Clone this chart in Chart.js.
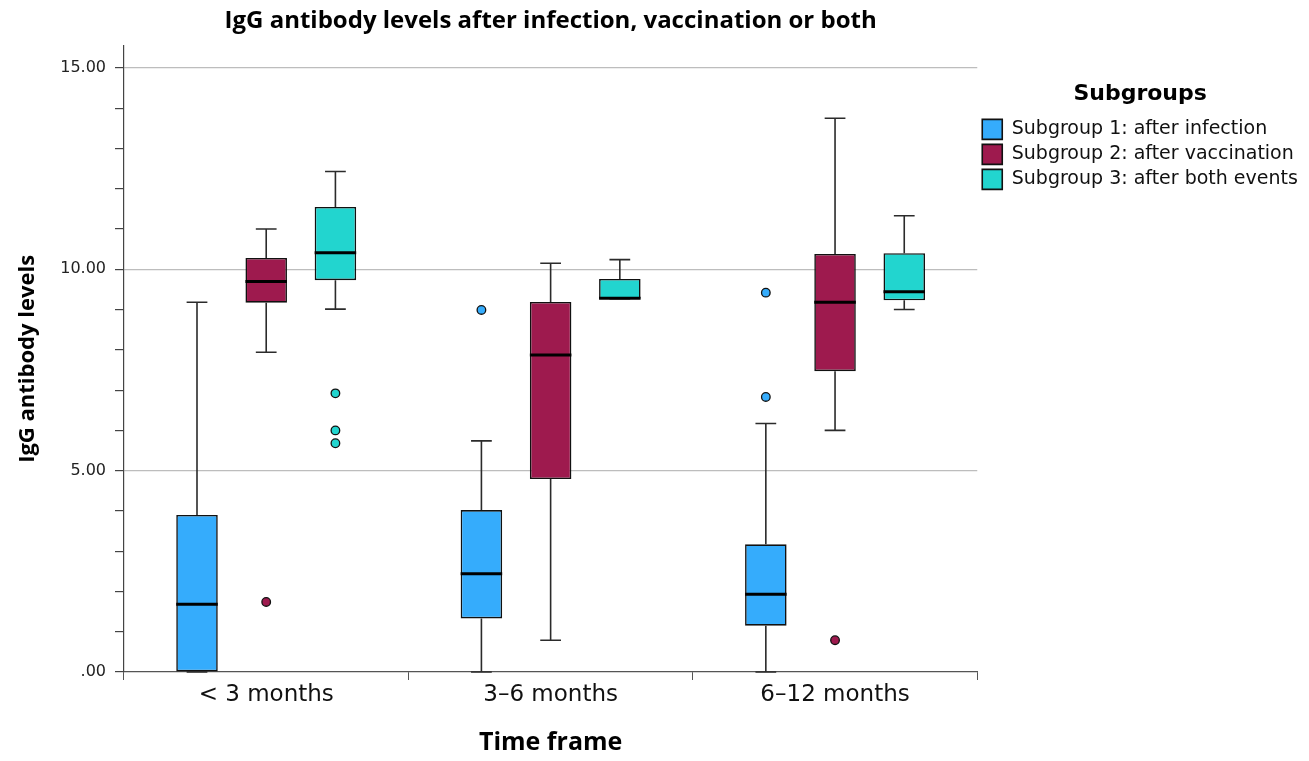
<!DOCTYPE html>
<html>
<head>
<meta charset="utf-8">
<title>IgG antibody levels</title>
<script src="https://cdn.jsdelivr.net/npm/chart.js@4"></script>
<style>
  body { margin: 0; background: #fff; }
  #wrap { width: 1309px; height: 761px; position: relative; }
</style>
</head>
<body>
<div id="wrap"><canvas id="boxChart"></canvas></div>
<script>
// time frames on the x axis
const categories = ["< 3 months", "3–6 months", "6–12 months"];
const groupNames = ["Subgroup 1: after infection", "Subgroup 2: after vaccination", "Subgroup 3: after both events"];
const groupColors = ["#35acfc", "#9e1a4e", "#22d5cf"];

// box plot stats per subgroup, one value per time frame
const infMin = [0, 0, 0];
const infQ1 = [0, 1.33, 1.15];
const infMedian = [1.68, 2.44, 1.93];
const infQ3 = [3.9, 4.02, 3.17];
const infMax = [9.18, 5.74, 6.17];
const infOutliers = [[], [8.99], [9.42, 6.83]];

const vacMin = [7.94, 0.79, 6.0];
const vacQ1 = [9.17, 4.79, 7.47];
const vacMedian = [9.7, 7.87, 9.18];
const vacQ3 = [10.28, 9.19, 10.38];
const vacMax = [11.0, 10.15, 13.75];
const vacOutliers = [[1.74], [], [0.79]];

const bothMin = [9.01, 9.27, 9.0];
const bothQ1 = [9.73, 9.27, 9.23];
const bothMedian = [10.41, 9.28, 9.44];
const bothQ3 = [11.55, 9.76, 10.4];
const bothMax = [12.43, 10.24, 11.33];
const bothOutliers = [[6.92, 6.0, 5.68], [], []];

// y axis ticks (labelled every 5, minor marks every 1)
const yTickLabels = { 0: ".00", 5: "5.00", 10: "10.00", 15: "15.00" };

const stats = [
    { min: infMin, q1: infQ1, med: infMedian, q3: infQ3, max: infMax, out: infOutliers },
    { min: vacMin, q1: vacQ1, med: vacMedian, q3: vacQ3, max: vacMax, out: vacOutliers },
    { min: bothMin, q1: bothQ1, med: bothMedian, q3: bothQ3, max: bothMax, out: bothOutliers }
];

// whiskers behind the boxes, medians and outliers on top
const boxExtras = {
    id: "boxExtras",
    beforeDatasetsDraw(chart) {
        const ctx = chart.ctx;
        const y = chart.scales.y;
        ctx.save();
        ctx.strokeStyle = "#2b2b2b";
        ctx.lineWidth = 1.6;
        stats.forEach((s, d) => {
            chart.getDatasetMeta(d).data.forEach((bar, i) => {
                const cap = bar.width / 4;
                const yMax = y.getPixelForValue(s.max[i]);
                const yMin = y.getPixelForValue(s.min[i]);
                ctx.beginPath();
                ctx.moveTo(bar.x, yMax);
                ctx.lineTo(bar.x, y.getPixelForValue(s.q3[i]));
                ctx.moveTo(bar.x, y.getPixelForValue(s.q1[i]));
                ctx.lineTo(bar.x, yMin);
                ctx.moveTo(bar.x - cap, yMax);
                ctx.lineTo(bar.x + cap, yMax);
                ctx.moveTo(bar.x - cap, yMin);
                ctx.lineTo(bar.x + cap, yMin);
                ctx.stroke();
            });
        });
        ctx.restore();
    },
    afterDatasetsDraw(chart) {
        const ctx = chart.ctx;
        const y = chart.scales.y;
        ctx.save();
        stats.forEach((s, d) => {
            chart.getDatasetMeta(d).data.forEach((bar, i) => {
                const ym = y.getPixelForValue(s.med[i]);
                ctx.strokeStyle = "#000";
                ctx.lineWidth = 3;
                ctx.beginPath();
                ctx.moveTo(bar.x - bar.width / 2, ym);
                ctx.lineTo(bar.x + bar.width / 2, ym);
                ctx.stroke();

                s.out[i].forEach(v => {
                    ctx.beginPath();
                    ctx.arc(bar.x, y.getPixelForValue(v), 4.3, 0, Math.PI * 2);
                    ctx.fillStyle = groupColors[d];
                    ctx.fill();
                    ctx.lineWidth = 1.3;
                    ctx.strokeStyle = "#111";
                    ctx.stroke();
                });
            });
        });
        ctx.restore();
    }
};

const datasets = stats.map((s, d) => ({
    label: groupNames[d],
    data: s.q1.map((v, i) => [v, s.q3[i]]),
    backgroundColor: groupColors[d],
    borderColor: "#111",
    borderWidth: 1.6,
    borderSkipped: false,
    categoryPercentage: 0.73,
    barPercentage: 0.6
}));

new Chart(document.getElementById("boxChart"), {
    type: "bar",
    data: { labels: categories, datasets: datasets },
    plugins: [boxExtras],
    options: {
        responsive: true,
        maintainAspectRatio: false,
        animation: false,
        layout: { padding: { left: 0, right: 6, top: 0, bottom: 0 } },
        plugins: {
            tooltip: { enabled: false },
            title: {
                display: true,
                text: "IgG antibody levels after infection, vaccination or both",
                fullSize: false,
                color: "#000",
                font: { family: "Open Sans", size: 24, weight: "bold" },
                padding: { top: 7, bottom: 10 }
            },
            legend: {
                position: "right",
                align: "start",
                title: {
                    display: true,
                    text: "Subgroups",
                    color: "#000",
                    font: { family: "DejaVu Sans", size: 22, weight: "bold" },
                    padding: { top: 83, bottom: 5 }
                },
                labels: {
                    color: "#111",
                    font: { family: "DejaVu Sans", size: 19 },
                    boxWidth: 20,
                    boxHeight: 20,
                    padding: 5
                }
            }
        },
        scales: {
            x: {
                afterFit(scale) { scale.height = 89; },
                border: { color: "#555", width: 1.2 },
                grid: { drawOnChartArea: false, tickLength: 8, color: "#555" },
                ticks: { color: "#111", font: { family: "DejaVu Sans", size: 23 }, padding: 1 },
                title: {
                    display: true,
                    text: "Time frame",
                    color: "#000",
                    font: { family: "Open Sans", size: 25, weight: "bold" },
                    padding: { top: 0, bottom: 3 }
                }
            },
            y: {
                min: 0,
                max: 15.55,
                afterFit(scale) { scale.width = 124; },
                border: { color: "#444", width: 1.2 },
                grid: {
                    tickLength: 9,
                    color: c => (c.tick && c.tick.value > 0 && c.tick.value % 5 === 0) ? "#bdbdbd" : "rgba(0,0,0,0)",
                    tickColor: c => (c.tick && Number.isInteger(c.tick.value)) ? "#444" : "rgba(0,0,0,0)",
                    lineWidth: 1.2
                },
                ticks: {
                    stepSize: 1,
                    maxTicksLimit: 30,
                    autoSkip: false,
                    color: "#222",
                    padding: 9,
                    font: { family: "DejaVu Sans", size: 16 },
                    callback: v => yTickLabels[v] !== undefined ? yTickLabels[v] : ""
                },
                title: {
                    display: true,
                    text: "IgG antibody levels",
                    color: "#000",
                    font: { family: "Open Sans", size: 22, weight: "bold" },
                    padding: { top: 15, bottom: 0 }
                }
            }
        }
    }
});
</script>
</body>
</html>
